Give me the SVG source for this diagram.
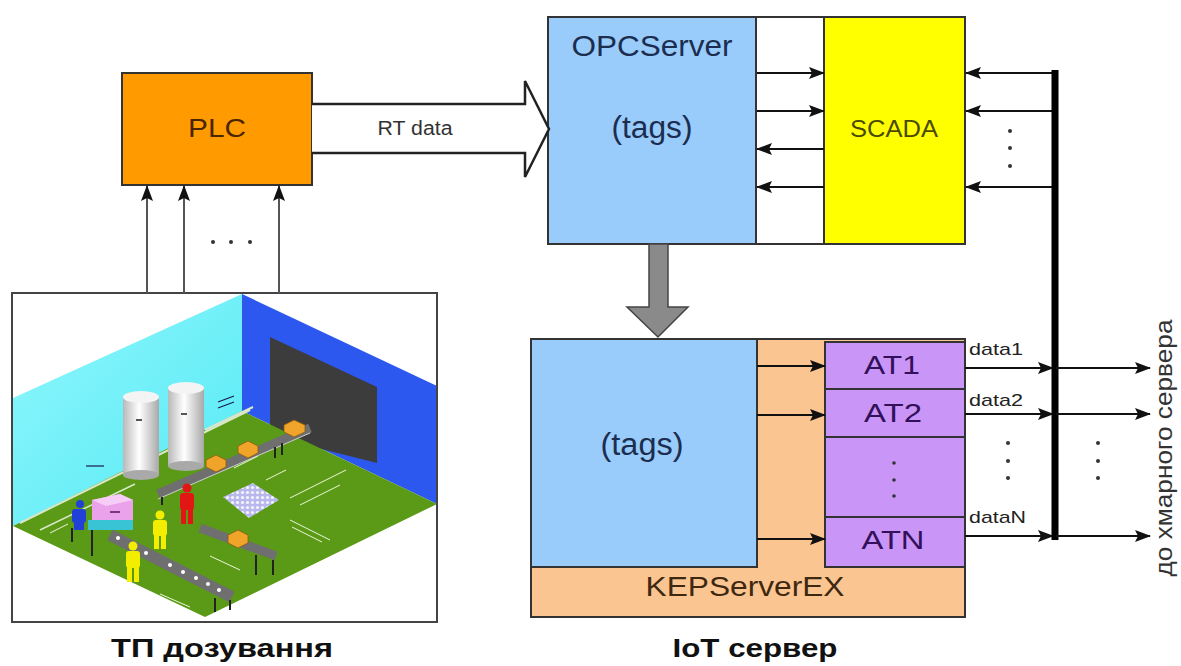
<svg xmlns="http://www.w3.org/2000/svg" width="1181" height="666" viewBox="0 0 1181 666">
  <style>
    text { font-family: "Liberation Sans", Arial, sans-serif; }
    .box { stroke: #333; stroke-width: 2; }
    .lbl { text-anchor: middle; }
    .cap { font-weight: bold; font-size: 26px; fill: #111; text-anchor: middle; }
    .wire { stroke: #111; stroke-width: 2; fill: none; marker-end: url(#ah); }
    .wire-g { stroke: #555; stroke-width: 2; fill: none; marker-end: url(#ah); }
    .dot { fill: #333; }
    .person { stroke: none; }
  </style>
  <defs>
    <marker id="ah" markerWidth="16" markerHeight="12" refX="15" refY="6" orient="auto" markerUnits="userSpaceOnUse">
      <path d="M0,0 L16,6 L0,12 L3,6 Z" fill="#111"/>
    </marker>
    <linearGradient id="silo" x1="0" y1="0" x2="1" y2="0">
      <stop offset="0" stop-color="#b8b8b8"/>
      <stop offset="0.45" stop-color="#ffffff"/>
      <stop offset="1" stop-color="#a8a8a8"/>
    </linearGradient>
    <linearGradient id="cyanWall" x1="0" y1="0" x2="1" y2="1">
      <stop offset="0" stop-color="#8ff6fb"/>
      <stop offset="1" stop-color="#55eaf6"/>
    </linearGradient>
    <pattern id="bottles" width="5" height="5" patternUnits="userSpaceOnUse">
      <rect width="5" height="5" fill="#b8b8ec"/>
      <circle cx="2.5" cy="2.5" r="1.6" fill="#f4f4ff"/>
    </pattern>
    <clipPath id="sceneClip">
      <rect x="13" y="294" width="423" height="327"/>
    </clipPath>
  </defs>

  <rect width="1181" height="666" fill="#ffffff"/>

  <!-- technological process scene -->
  <g id="tp-scene">
    <rect x="12" y="293" width="425" height="329" fill="#ffffff" stroke="#444" stroke-width="2"/>
    <g clip-path="url(#sceneClip)">
      <polygon points="13,398 242,294 242,411 13,526" fill="url(#cyanWall)"/>
      <polygon points="242,294 437,386 437,504 242,411" fill="#2d58ef"/>
      <polygon points="270,337 377,387 377,463 270,436" fill="#3c3c3c"/>
      <polygon points="13,526 242,411 437,504 205,617" fill="#5b9a16"/>
      <!-- pipes along the wall base -->
      <line x1="20" y1="523" x2="250" y2="410" stroke="#d8e8c8" stroke-width="2"/>
      <line x1="40" y1="530" x2="135" y2="484" stroke="#d8e8c8" stroke-width="1.5"/>
      <line x1="205" y1="430" x2="253" y2="407" stroke="#d8e8c8" stroke-width="2"/>
      <!-- back conveyor with boxes -->
      <line x1="158" y1="494" x2="310" y2="428" stroke="#6f6f6f" stroke-width="9"/>
      <line x1="158" y1="499" x2="310" y2="433" stroke="#cfcfcf" stroke-width="1"/>
      <line x1="162" y1="497" x2="162" y2="505" stroke="#222" stroke-width="2"/>
      <line x1="275" y1="447" x2="275" y2="458" stroke="#222" stroke-width="2"/>
      <line x1="282" y1="443" x2="282" y2="455" stroke="#222" stroke-width="2"/>
      <polygon points="206,460 216,455 226,460 226,467 216,472 206,467" fill="#f0a52a" stroke="#8a5a10" stroke-width="0.8"/>
      <polygon points="238,446 248,441 258,446 258,453 248,458 238,453" fill="#f0a52a" stroke="#8a5a10" stroke-width="0.8"/>
      <polygon points="284,425 294,420 305,425 305,432 294,437 284,432" fill="#f0a52a" stroke="#8a5a10" stroke-width="0.8"/>
      <!-- silos -->
      <rect x="123" y="397" width="36" height="78" fill="url(#silo)"/>
      <ellipse cx="141" cy="397" rx="18" ry="6" fill="#f4f4f4"/>
      <ellipse cx="141" cy="475" rx="18" ry="5" fill="#a9a9a9"/>
      <rect x="168" y="388" width="36" height="78" fill="url(#silo)"/>
      <ellipse cx="186" cy="388" rx="18" ry="6" fill="#f4f4f4"/>
      <ellipse cx="186" cy="466" rx="18" ry="5" fill="#a9a9a9"/>
      <rect x="136" y="419" width="6" height="2" fill="#555"/>
      <rect x="181" y="413" width="6" height="2" fill="#555"/>
      <!-- middle conveyor with a box -->
      <line x1="200" y1="528" x2="276" y2="556" stroke="#6f6f6f" stroke-width="9"/>
      <line x1="256" y1="555" x2="256" y2="575" stroke="#222" stroke-width="2"/>
      <line x1="273" y1="560" x2="273" y2="575" stroke="#222" stroke-width="2"/>
      <polygon points="228,535 238,530 248,535 248,543 238,548 228,543" fill="#f0a52a" stroke="#8a5a10" stroke-width="0.8"/>
      <!-- front conveyor with bottles -->
      <line x1="110" y1="535" x2="232" y2="597" stroke="#6f6f6f" stroke-width="12"/>
      <g fill="#ffffff">
        <circle cx="118" cy="538" r="2"/><circle cx="132" cy="546" r="2"/>
        <circle cx="146" cy="553" r="2"/><circle cx="170" cy="565" r="2"/>
        <circle cx="183" cy="572" r="2"/><circle cx="196" cy="578" r="2"/>
        <circle cx="208" cy="584" r="2"/><circle cx="219" cy="590" r="2"/>
      </g>
      <line x1="215" y1="598" x2="215" y2="612" stroke="#222" stroke-width="2"/>
      <line x1="230" y1="600" x2="230" y2="610" stroke="#222" stroke-width="2"/>
      <line x1="72" y1="528" x2="72" y2="542" stroke="#222" stroke-width="2"/>
      <line x1="92" y1="528" x2="92" y2="556" stroke="#222" stroke-width="2"/>
      <!-- filling machine -->
      <polygon points="88,520 133,520 133,530 88,530" fill="#38c4d4"/>
      <polygon points="92,500 120,494 133,500 133,520 92,520" fill="#eaa2ea"/>
      <polygon points="92,500 120,494 133,500 106,506" fill="#f6cdf6"/>
      <rect x="110" y="511" width="10" height="2" fill="#7a3a7a"/>
      <!-- bottle pallet -->
      <polygon points="223,497 253,483 279,500 249,518" fill="url(#bottles)"/>
      <!-- workers -->
      <g class="person" fill="#e31616">
        <circle cx="187" cy="488" r="4.5"/>
        <rect x="180" y="493" width="14" height="17" rx="3"/>
        <rect x="181" y="509" width="5" height="15"/>
        <rect x="188" y="509" width="5" height="15"/>
      </g>
      <g class="person" fill="#f3ee00">
        <circle cx="160" cy="515" r="4.5"/>
        <rect x="153" y="520" width="14" height="16" rx="3"/>
        <rect x="154" y="535" width="5" height="14"/>
        <rect x="161" y="535" width="5" height="14"/>
        <circle cx="133" cy="546" r="4.5"/>
        <rect x="126" y="551" width="14" height="17" rx="3"/>
        <rect x="127" y="567" width="5" height="15"/>
        <rect x="134" y="567" width="5" height="15"/>
      </g>
      <g class="person" fill="#2040d8">
        <circle cx="80" cy="504" r="4"/>
        <rect x="72" y="509" width="14" height="14" rx="3"/>
        <rect x="74" y="522" width="10" height="8"/>
      </g>
      <!-- floor markings -->
      <g stroke="#eef6dc" stroke-width="1">
        <line x1="234" y1="468" x2="258" y2="456"/>
        <line x1="266" y1="480" x2="286" y2="470"/>
        <line x1="290" y1="498" x2="346" y2="470"/>
        <line x1="300" y1="505" x2="340" y2="485"/>
        <line x1="290" y1="520" x2="330" y2="540"/>
        <line x1="292" y1="527" x2="322" y2="542"/>
        <line x1="210" y1="556" x2="240" y2="570"/>
        <line x1="160" y1="594" x2="190" y2="607"/>
        <line x1="50" y1="533" x2="68" y2="524"/>
      </g>
      <g stroke="#1a1a4a" stroke-width="1.2">
        <line x1="86" y1="466" x2="104" y2="466"/>
        <line x1="218" y1="402" x2="234" y2="396"/>
        <line x1="218" y1="408" x2="234" y2="402"/>
      </g>
    </g>
  </g>

  <!-- PLC -->
  <g id="plc">
    <rect class="box" x="122" y="73" width="190" height="112" fill="#ff9a00"/>
    <text class="lbl" x="217" y="137" font-size="26" textLength="58" lengthAdjust="spacingAndGlyphs" fill="#4a2600">PLC</text>
  </g>

  <!-- OPC server and SCADA frame -->
  <g id="opc-scada-frame">
    <rect class="box" x="548" y="17" width="417" height="227" fill="#ffffff"/>
  </g>
  <g id="opc-server">
    <rect class="box" x="548" y="17" width="208" height="227" fill="#99ccfb"/>
    <text class="lbl" x="652" y="56" font-size="29" textLength="161" lengthAdjust="spacingAndGlyphs" fill="#1c2e50">OPCServer</text>
    <text class="lbl" x="652" y="138" font-size="31" textLength="81" lengthAdjust="spacingAndGlyphs" fill="#1c2e50">(tags)</text>
  </g>
  <g id="scada">
    <rect class="box" x="824" y="17" width="141" height="227" fill="#ffff00"/>
    <text class="lbl" x="894" y="137" font-size="23" textLength="88" lengthAdjust="spacingAndGlyphs" fill="#4a4a00">SCADA</text>
  </g>

  <!-- KEPServerEX -->
  <g id="kepserverex">
    <rect class="box" x="531" y="339" width="434" height="278" fill="#fbc592"/>
    <text class="lbl" x="745" y="596" font-size="28" textLength="199" lengthAdjust="spacingAndGlyphs" fill="#3e2810">KEPServerEX</text>
  </g>
  <g id="kep-tags">
    <rect class="box" x="531" y="339" width="226" height="228" fill="#99ccfb"/>
    <text class="lbl" x="642" y="455" font-size="31" textLength="83" lengthAdjust="spacingAndGlyphs" fill="#1c2e50">(tags)</text>
  </g>
  <g id="at1">
    <rect class="box" x="825" y="342" width="140" height="47" fill="#c996f8"/>
    <text class="lbl" x="892" y="374" font-size="25" textLength="56" lengthAdjust="spacingAndGlyphs" fill="#33105a">AT1</text>
  </g>
  <g id="at2">
    <rect class="box" x="825" y="389" width="140" height="48" fill="#c996f8"/>
    <text class="lbl" x="893" y="422" font-size="25" textLength="58" lengthAdjust="spacingAndGlyphs" fill="#33105a">AT2</text>
  </g>
  <g id="at-more">
    <rect class="box" x="825" y="437" width="140" height="80" fill="#c996f8"/>
    <circle class="dot" cx="894" cy="463" r="1.8"/>
    <circle class="dot" cx="894" cy="480" r="1.8"/>
    <circle class="dot" cx="894" cy="496" r="1.8"/>
  </g>
  <g id="atn">
    <rect class="box" x="825" y="517" width="140" height="50" fill="#c996f8"/>
    <text class="lbl" x="893" y="549" font-size="25" textLength="63" lengthAdjust="spacingAndGlyphs" fill="#33105a">ATN</text>
  </g>

  <!-- connectors -->
  <g id="connectors">
    <!-- process signals into PLC -->
    <line class="wire-g" x1="147" y1="293" x2="147" y2="186"/>
    <line class="wire-g" x1="184" y1="293" x2="184" y2="186"/>
    <line class="wire-g" x1="279" y1="293" x2="279" y2="186"/>
    <circle class="dot" cx="213" cy="242" r="2"/>
    <circle class="dot" cx="231" cy="242" r="2"/>
    <circle class="dot" cx="250" cy="242" r="2"/>

    <!-- RT data block arrow -->
    <path d="M312,104 L525,104 L525,81 L549,129 L525,177 L525,153 L312,153" fill="#ffffff" stroke="#222" stroke-width="2.5" stroke-linejoin="miter"/>
    <text x="415" y="135" font-size="20" text-anchor="middle" textLength="75" lengthAdjust="spacingAndGlyphs" fill="#333">RT data</text>

    <!-- OPC <-> SCADA -->
    <line class="wire" x1="757" y1="73" x2="824" y2="73"/>
    <line class="wire" x1="757" y1="111" x2="824" y2="111"/>
    <line class="wire" x1="824" y1="149" x2="757" y2="149"/>
    <line class="wire" x1="824" y1="187" x2="757" y2="187"/>

    <!-- bus to SCADA -->
    <line class="wire" x1="1055" y1="73" x2="966" y2="73"/>
    <line class="wire" x1="1055" y1="111" x2="966" y2="111"/>
    <line class="wire" x1="1055" y1="187" x2="966" y2="187"/>
    <circle class="dot" cx="1010" cy="131" r="2"/>
    <circle class="dot" cx="1010" cy="148" r="2"/>
    <circle class="dot" cx="1010" cy="166" r="2"/>

    <!-- OPC to KEPServerEX -->
    <path d="M649,244 L668,244 L668,307 L688,307 L658,337 L627,307 L649,307 Z" fill="#8a8a8a" stroke="#444" stroke-width="1.5"/>

    <!-- tags to AT blocks -->
    <line class="wire" x1="757" y1="366" x2="825" y2="366"/>
    <line class="wire" x1="757" y1="415" x2="825" y2="415"/>
    <line class="wire" x1="757" y1="539" x2="825" y2="539"/>

    <!-- AT outputs to bus -->
    <line class="wire" x1="965" y1="368" x2="1053" y2="368"/>
    <line class="wire" x1="965" y1="414" x2="1053" y2="414"/>
    <line class="wire" x1="965" y1="536" x2="1053" y2="536"/>
    <text x="969" y="355" font-size="17" textLength="54" lengthAdjust="spacingAndGlyphs" fill="#222">data1</text>
    <text x="969" y="406" font-size="17" textLength="54" lengthAdjust="spacingAndGlyphs" fill="#222">data2</text>
    <text x="969" y="523" font-size="17" textLength="57" lengthAdjust="spacingAndGlyphs" fill="#222">dataN</text>
    <circle class="dot" cx="1008" cy="443" r="2"/>
    <circle class="dot" cx="1008" cy="461" r="2"/>
    <circle class="dot" cx="1008" cy="478" r="2"/>

    <!-- bus -->
    <line x1="1055" y1="70" x2="1055" y2="540" stroke="#000" stroke-width="7"/>

    <!-- bus to cloud server -->
    <line class="wire" x1="1056" y1="368" x2="1150" y2="368"/>
    <line class="wire" x1="1056" y1="414" x2="1150" y2="414"/>
    <line class="wire" x1="1056" y1="536" x2="1150" y2="536"/>
    <circle class="dot" cx="1098" cy="443" r="2"/>
    <circle class="dot" cx="1098" cy="461" r="2"/>
    <circle class="dot" cx="1098" cy="478" r="2"/>
    <text transform="translate(1172,448) rotate(-90)" font-size="23" text-anchor="middle" textLength="257" lengthAdjust="spacingAndGlyphs" fill="#333">до хмарного сервера</text>
  </g>

  <!-- captions -->
  <text class="cap" x="222" y="657" textLength="222" lengthAdjust="spacingAndGlyphs">ТП дозування</text>
  <text class="cap" x="755" y="657" textLength="165" lengthAdjust="spacingAndGlyphs">IoT сервер</text>
</svg>
